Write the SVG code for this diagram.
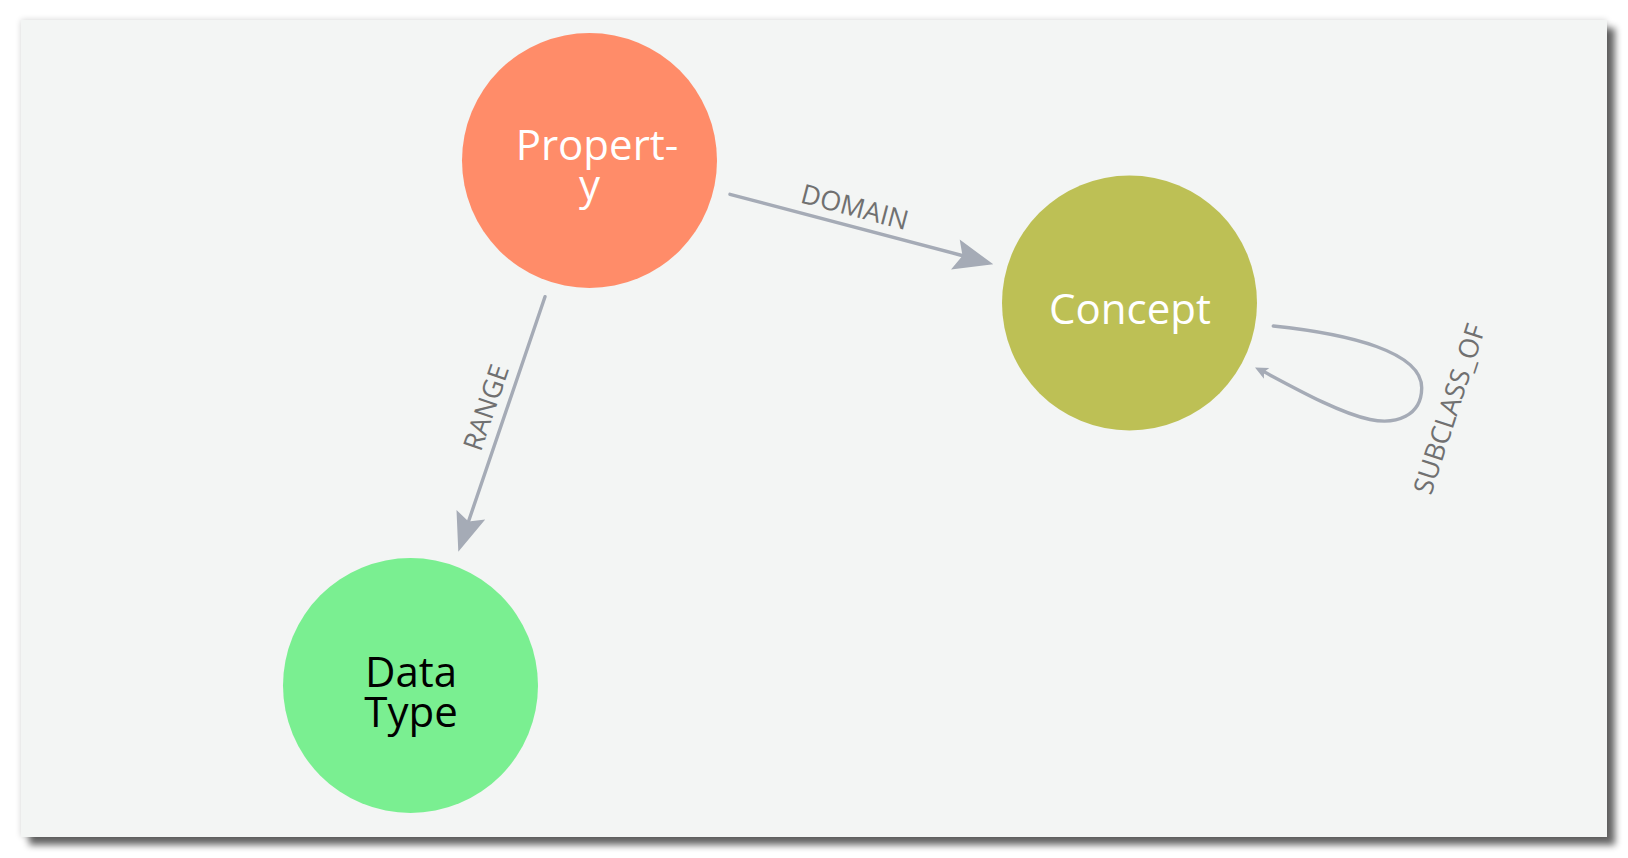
<svg xmlns="http://www.w3.org/2000/svg" width="1628" height="858" viewBox="0 0 1628 858">
  <defs>
    <filter id="shadow" x="-5%" y="-5%" width="110%" height="112%">
      <feGaussianBlur in="SourceAlpha" stdDeviation="3" result="b1"/>
      <feOffset in="b1" dx="0" dy="0" result="o1"/>
      <feComponentTransfer in="o1" result="c1"><feFuncA type="linear" slope="0.18"/></feComponentTransfer>
      <feGaussianBlur in="SourceAlpha" stdDeviation="3.5" result="b2"/>
      <feOffset in="b2" dx="8" dy="8" result="o2"/>
      <feComponentTransfer in="o2" result="c2"><feFuncA type="linear" slope="0.6"/></feComponentTransfer>
      <feMerge>
        <feMergeNode in="c1"/>
        <feMergeNode in="c2"/>
        <feMergeNode in="SourceGraphic"/>
      </feMerge>
    </filter>
    <style>
      .edge { fill: none; stroke: #A5ABB6; stroke-width: 3.4; stroke-linecap: round; }
      .head { fill: #A5ABB6; stroke: none; }
      .rel { font-family: "Open Sans", "Liberation Sans", sans-serif; font-size: 27px; fill: #707070; text-anchor: middle; }
      .cap { font-family: "Open Sans", "Liberation Sans", sans-serif; font-size: 42px; text-anchor: middle; }
    </style>
  </defs>

  <rect x="21" y="20" width="1586" height="817" fill="#F3F5F4" filter="url(#shadow)"/>

  <g id="connectors">
    <g id="edge-domain">
      <line class="edge" x1="730" y1="194.3" x2="962" y2="255.5"/>
      <polygon class="head" points="993.3,264.3 959.7,239.6 962.5,255.8 951,269.5"/>
      <text class="rel" transform="translate(852.4,216.2) rotate(14.84)">DOMAIN</text>
    </g>
    <g id="edge-range">
      <line class="edge" x1="545" y1="296.7" x2="468.5" y2="521.5"/>
      <polygon class="head" points="458.3,551.7 456.5,510 468.5,521.5 485.2,519.6"/>
      <text class="rel" transform="translate(495,410.6) rotate(-71.17)">RANGE</text>
    </g>
    <g id="edge-subclass">
      <path class="edge" d="M1273.3,326 C1350,334 1422,352 1421.7,388 C1421.5,416 1396,425 1370,419.5 C1340,413 1300,391 1264.5,372"/>
      <polygon class="head" points="1255,367.5 1269.3,368.1 1264,372 1263.9,378.7"/>
      <text class="rel" transform="translate(1458.2,412) rotate(-72)">SUBCLASS_OF</text>
    </g>
  </g>

  <g id="node-property">
    <circle cx="589.5" cy="160.5" r="127.5" fill="#FF8C69"/>
    <text class="cap" fill="#ffffff" x="597" y="160">Propert-</text>
    <text class="cap" fill="#ffffff" x="589.5" y="200">y</text>
  </g>

  <g id="node-concept">
    <circle cx="1129.5" cy="303" r="127.5" fill="#BDC055"/>
    <text class="cap" fill="#ffffff" x="1130" y="324">Concept</text>
  </g>

  <g id="node-datatype">
    <circle cx="410.5" cy="685.5" r="127.5" fill="#7AEF91"/>
    <text class="cap" fill="#000000" x="411" y="687">Data</text>
    <text class="cap" fill="#000000" x="411" y="727">Type</text>
  </g>
</svg>
